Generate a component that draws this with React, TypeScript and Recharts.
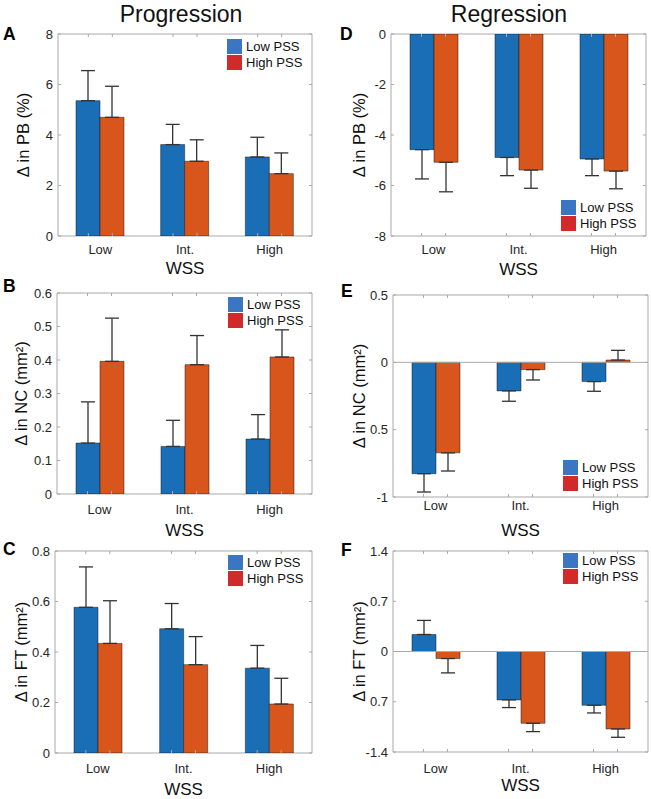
import React from 'react';
import { BarChart, Bar, XAxis, YAxis, ErrorBar, ReferenceArea, ReferenceLine } from 'recharts';

const categories = ['Low', 'Int.', 'High'];
const seriesNames = ['Low PSS', 'High PSS'];

// A: Progression, Δ in PB (%)
const pbProgLow = [5.36, 3.62, 3.13];
const pbProgLowErr = [1.19, 0.8, 0.78];
const pbProgHigh = [4.7, 2.96, 2.47];
const pbProgHighErr = [1.23, 0.85, 0.82];
const pbProgTicks = [0, 2, 4, 6, 8];
const pbProgTickLabels = ['0', '2', '4', '6', '8'];

// B: Progression, Δ in NC (mm²)
const ncProgLow = [0.152, 0.142, 0.164];
const ncProgLowErr = [0.123, 0.078, 0.073];
const ncProgHigh = [0.396, 0.386, 0.409];
const ncProgHighErr = [0.129, 0.087, 0.081];
const ncProgTicks = [0, 0.1, 0.2, 0.3, 0.4, 0.5, 0.6];
const ncProgTickLabels = ['0', '0.1', '0.2', '0.3', '0.4', '0.5', '0.6'];

// C: Progression, Δ in FT (mm²)
const ftProgLow = [0.577, 0.492, 0.336];
const ftProgLowErr = [0.16, 0.1, 0.09];
const ftProgHigh = [0.434, 0.35, 0.194];
const ftProgHighErr = [0.169, 0.111, 0.102];
const ftProgTicks = [0, 0.2, 0.4, 0.6, 0.8];
const ftProgTickLabels = ['0', '0.2', '0.4', '0.6', '0.8'];

// D: Regression, Δ in PB (%)
const pbRegLow = [-4.58, -4.89, -4.95];
const pbRegLowErr = [1.16, 0.72, 0.66];
const pbRegHigh = [-5.08, -5.39, -5.43];
const pbRegHighErr = [1.17, 0.72, 0.7];
const pbRegTicks = [-8, -6, -4, -2, 0];
const pbRegTickLabels = ['-8', '-6', '-4', '-2', '0'];

// E: Regression, Δ in NC (mm²)
const ncRegLow = [-0.827, -0.212, -0.143];
const ncRegLowErr = [0.136, 0.077, 0.072];
const ncRegHigh = [-0.672, -0.054, 0.017];
const ncRegHighErr = [0.135, 0.077, 0.072];
const ncRegTicks = [-1, -0.5, 0, 0.5];
const ncRegTickLabels = ['-1', '0.5', '0', '0.5'];

// F: Regression, Δ in FT (mm²)
const ftRegLow = [0.237, -0.674, -0.749];
const ftRegLowErr = [0.196, 0.107, 0.107];
const ftRegHigh = [-0.098, -1.0, -1.079];
const ftRegHighErr = [0.2, 0.116, 0.116];
const ftRegTicks = [-1.4, -0.7, 0, 0.7, 1.4];
const ftRegTickLabels = ['-1.4', '0.7', '0', '0.7', '1.4'];

const FONT = '"Liberation Sans", Arial, Helvetica, sans-serif';
const BLUE = '#1a6eb5';
const ORANGE = '#d8561c';
const LEG_BLUE = '#3b76c3';
const LEG_RED = '#d02a2a';
const FRAME = '#a9a9a9';
const TXT = '#262626';

const errPair = (v: number, e: number) => (v >= 0 ? [0, e] : [e, 0]);

const panels = [
  {
    id: 'A', low: pbProgLow, lowErr: pbProgLowErr, high: pbProgHigh, highErr: pbProgHighErr,
    domain: [0, 8], ticks: pbProgTicks, tickLabels: pbProgTickLabels, yLabel: 'Δ in PB (%)', zeroLine: false,
    L: { left: 0, width: 325, top: 20, height: 260, x0: 58, x1: 312, y0: 34, y1: 236, tickGap: 9, wssGap: 25.7, yLabelX: 29, letterX: 3, letterY: 40, legendX: 227, legendY: 39 },
  },
  {
    id: 'D', low: pbRegLow, lowErr: pbRegLowErr, high: pbRegHigh, highErr: pbRegHighErr,
    domain: [-8, 0], ticks: pbRegTicks, tickLabels: pbRegTickLabels, yLabel: 'Δ in PB (%)', zeroLine: false,
    L: { left: 325, width: 326, top: 20, height: 260, x0: 391, x1: 646, y0: 34, y1: 236, tickGap: 9, wssGap: 26.7, yLabelX: 365, letterX: 340, letterY: 40, legendX: 561, legendY: 200 },
  },
  {
    id: 'B', low: ncProgLow, lowErr: ncProgLowErr, high: ncProgHigh, highErr: ncProgHighErr,
    domain: [0, 0.6], ticks: ncProgTicks, tickLabels: ncProgTickLabels, yLabel: 'Δ in NC (mm²)', zeroLine: false,
    L: { left: 0, width: 325, top: 280, height: 260, x0: 57, x1: 312, y0: 293, y1: 494, tickGap: 11, wssGap: 29.3, yLabelX: 27, letterX: 3, letterY: 292, legendX: 228, legendY: 297 },
  },
  {
    id: 'E', low: ncRegLow, lowErr: ncRegLowErr, high: ncRegHigh, highErr: ncRegHighErr,
    domain: [-1, 0.5], ticks: ncRegTicks, tickLabels: ncRegTickLabels, yLabel: 'Δ in NC (mm²)', zeroLine: true,
    L: { left: 325, width: 326, top: 280, height: 260, x0: 393, x1: 648, y0: 295, y1: 497, tickGap: 4, wssGap: 26.3, yLabelX: 365, letterX: 341, letterY: 297, legendX: 563, legendY: 460 },
  },
  {
    id: 'C', low: ftProgLow, lowErr: ftProgLowErr, high: ftProgHigh, highErr: ftProgHighErr,
    domain: [0, 0.8], ticks: ftProgTicks, tickLabels: ftProgTickLabels, yLabel: 'Δ in FT (mm²)', zeroLine: false,
    L: { left: 0, width: 325, top: 540, height: 259, x0: 55, x1: 312, y0: 551, y1: 753, tickGap: 10.6, wssGap: 29.5, yLabelX: 27, letterX: 3, letterY: 555, legendX: 228, legendY: 555 },
  },
  {
    id: 'F', low: ftRegLow, lowErr: ftRegLowErr, high: ftRegHigh, highErr: ftRegHighErr,
    domain: [-1.4, 1.4], ticks: ftRegTicks, tickLabels: ftRegTickLabels, yLabel: 'Δ in FT (mm²)', zeroLine: true,
    L: { left: 325, width: 326, top: 540, height: 259, x0: 393, x1: 648, y0: 551, y1: 752, tickGap: 11.7, wssGap: 26.7, yLabelX: 365, letterX: 341, letterY: 556, legendX: 563, legendY: 553 },
  },
];

function Panel({ p }: { p: any }) {
  const L = p.L;
  const data = categories.map((c, i) => ({
    cat: c,
    low: p.low[i],
    high: p.high[i],
    lowErr: errPair(p.low[i], p.lowErr[i]),
    highErr: errPair(p.high[i], p.highErr[i]),
  }));
  const xh = 40;
  const margin = {
    top: L.y0 - L.top,
    right: L.left + L.width - L.x1,
    bottom: L.top + L.height - L.y1 - xh,
    left: 0,
  };
  const pb = L.y1 - L.top;
  const pt = L.y0 - L.top;
  const pl = L.x0 - L.left;
  const pr = L.x1 - L.left;

  const XTick = (props: any) => {
    const { x, payload } = props;
    return (
      <g>
        <text x={x} y={pb + L.tickGap + 9.4} textAnchor="middle" fontSize={13} fill={TXT} fontFamily={FONT}>
          {payload.value}
        </text>
        {[-12, 12].map((d) => (
          <g key={d}>
            <line x1={x + d} x2={x + d} y1={pb} y2={pb - 3} stroke={FRAME} />
            <line x1={x + d} x2={x + d} y1={pt} y2={pt + 3} stroke={FRAME} />
          </g>
        ))}
      </g>
    );
  };

  const YTick = (props: any) => {
    const { y, payload } = props;
    const idx = p.ticks.indexOf(payload.value);
    return (
      <g>
        <text x={pl - 5} y={y + 4.6} textAnchor="end" fontSize={13} fill={TXT} fontFamily={FONT}>
          {p.tickLabels[idx]}
        </text>
        <line x1={pl} x2={pl + 3} y1={y} y2={y} stroke={FRAME} />
        <line x1={pr} x2={pr - 3} y1={y} y2={y} stroke={FRAME} />
      </g>
    );
  };

  return (
    <div style={{ position: 'absolute', left: L.left, top: L.top, width: L.width, height: L.height }}>
      <BarChart width={L.width} height={L.height} data={data} margin={margin} barGap={0} barSize={24}>
        <XAxis dataKey="cat" axisLine={false} tickLine={false} height={xh} tick={XTick} interval={0} />
        <YAxis
          width={pl}
          type="number"
          domain={p.domain}
          ticks={p.ticks}
          interval={0}
          axisLine={false}
          tickLine={false}
          tick={YTick}
          allowDataOverflow
        />
        {p.zeroLine && <ReferenceLine y={0} stroke={FRAME} strokeWidth={1} />}
        <Bar dataKey="low" name={seriesNames[0]} fill={BLUE} stroke="#1b1b1b" strokeWidth={0.5} isAnimationActive={false}>
          <ErrorBar dataKey="lowErr" direction="y" width={7} stroke="#333" strokeWidth={1.3} />
        </Bar>
        <Bar dataKey="high" name={seriesNames[1]} fill={ORANGE} stroke="#1b1b1b" strokeWidth={0.5} isAnimationActive={false}>
          <ErrorBar dataKey="highErr" direction="y" width={7} stroke="#333" strokeWidth={1.3} />
        </Bar>
        <ReferenceArea y1={p.domain[0]} y2={p.domain[1]} fill="none" stroke={FRAME} strokeWidth={1} />
      </BarChart>
    </div>
  );
}

function Overlay() {
  return (
    <svg width={651} height={799} style={{ position: 'absolute', left: 0, top: 0, pointerEvents: 'none' }} fontFamily={FONT}>
      <text x={181} y={21.5} textAnchor="middle" fontSize={23} fill="#111">Progression</text>
      <text x={509} y={21.5} textAnchor="middle" fontSize={23} fill="#111">Regression</text>
      {panels.map((p) => {
        const L = p.L;
        const cy = (L.y0 + L.y1) / 2;
        const cx = (L.x0 + L.x1) / 2;
        return (
          <g key={p.id}>
            <text x={L.letterX} y={L.letterY} fontSize={17.5} fontWeight="bold" fill="#000">{p.id}</text>
            <text
              x={L.yLabelX}
              y={cy}
              textAnchor="middle"
              fontSize={16.5}
              fill="#111"
              transform={`rotate(-90 ${L.yLabelX} ${cy})`}
            >
              {p.yLabel}
            </text>
            <text x={cx} y={L.y1 + L.wssGap + 12.2} textAnchor="middle" fontSize={17} fill="#111">WSS</text>
            <rect x={L.legendX} y={L.legendY} width={15} height={15} fill={LEG_BLUE} />
            <rect x={L.legendX} y={L.legendY + 16} width={15} height={15} fill={LEG_RED} />
            <text x={L.legendX + 19} y={L.legendY + 12.2} fontSize={13} fill="#111">{seriesNames[0]}</text>
            <text x={L.legendX + 19} y={L.legendY + 28.2} fontSize={13} fill="#111">{seriesNames[1]}</text>
          </g>
        );
      })}
    </svg>
  );
}

export default function App() {
  return (
    <div style={{ position: 'absolute', left: 0, top: 0, width: 651, height: 799, background: '#fff', fontFamily: FONT }}>
      {panels.map((p) => (
        <Panel key={p.id} p={p} />
      ))}
      <Overlay />
    </div>
  );
}
